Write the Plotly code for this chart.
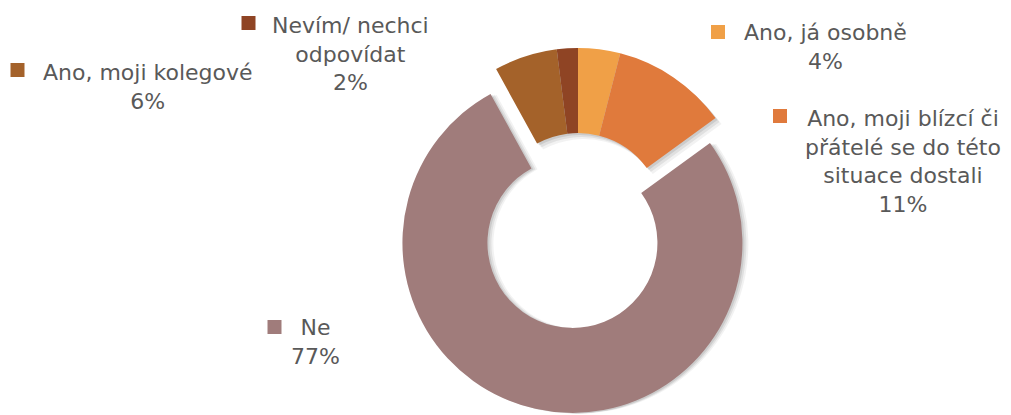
import plotly.graph_objects as go

# Survey answers, clockwise from 12 o'clock
labels = [
    "Ano, já osobně",
    "Ano, moji blízcí či<br>přátelé se do této<br>situace dostali",
    "Ne",
    "Ano, moji kolegové",
    "Nevím/ nechci<br>odpovídat",
]
values = [4, 11, 77, 6, 2]
pulls = [0, 0, 0.15, 0, 0]
colors = ["#F0A047", "#E07A3C", "#A07C7B", "#A4622A", "#8F4424"]

W, H = 1011, 415


def px(x):
    return x / W


def py(y):
    return 1 - y / H


def box(cx, cy, half):
    return dict(x=[px(cx - half), px(cx + half)],
                y=[max(0.0, py(cy + half)), min(1.0, py(cy - half))])


# pie centre and ring radius in pixels
cx, cy, R = 578, 218, 170
max_pull = max(pulls)
half = R * (1 + max_pull)

fig = go.Figure()

common = dict(values=values, labels=labels, hole=0.5, sort=False,
              direction="clockwise", rotation=0, textinfo="none",
              hoverinfo="skip", showlegend=False)

# soft drop shadow: translucent offset copies
for dx, dy, alpha in [(6, 6, 0.05), (4, 4, 0.07), (2, 2, 0.09)]:
    # shadow of the small slices (not pulled)
    fig.add_trace(go.Pie(
        **common, pull=[0] * len(values),
        marker=dict(colors=[f"rgba(0,0,0,{alpha})" if p == 0 else "rgba(0,0,0,0)"
                            for p in pulls], line=dict(width=0)),
        domain=box(cx + dx, cy + dy, R),
    ))
    # shadow of the pulled slice (it sits on the bottom edge, so only a small drop)
    fig.add_trace(go.Pie(
        **common, pull=pulls,
        marker=dict(colors=[f"rgba(0,0,0,{alpha})" if p > 0 else "rgba(0,0,0,0)"
                            for p in pulls], line=dict(width=0)),
        domain=box(cx + dx, cy + min(dy, 1.5) * 0.5, half),
    ))

fig.add_trace(go.Pie(
    **{**common, "hoverinfo": "label+percent"}, pull=pulls,
    marker=dict(colors=colors, line=dict(width=0)),
    domain=box(cx, cy, half),
))

# label blocks: (text centre x, block centre y, key square centre x, y)
label_pos = [
    (825, 47.5, 718, 32),
    (903, 161, 780, 116),
    (315, 342, 274.5, 327),
    (148, 87.5, 17.5, 70),
    (350, 54, 248.5, 23),
]

font = dict(family="DejaVu Sans", size=22, color="#595959")
annotations = []
shapes = []
for lab, val, col, (tx, ty, sx, sy) in zip(labels, values, colors, label_pos):
    annotations.append(dict(
        x=px(tx), y=py(ty), xref="paper", yref="paper",
        text=f"{lab}<br>{val}%", showarrow=False, font=font,
        xanchor="center", yanchor="middle", align="center",
    ))
    s = 7
    shapes.append(dict(
        type="rect", xref="paper", yref="paper",
        x0=px(sx - s), x1=px(sx + s), y0=py(sy + s), y1=py(sy - s),
        fillcolor=col, line=dict(width=0),
    ))

fig.update_layout(
    width=W, height=H,
    margin=dict(l=0, r=0, t=0, b=0),
    paper_bgcolor="white", plot_bgcolor="white",
    annotations=annotations, shapes=shapes,
)

fig.write_html("out.html")
